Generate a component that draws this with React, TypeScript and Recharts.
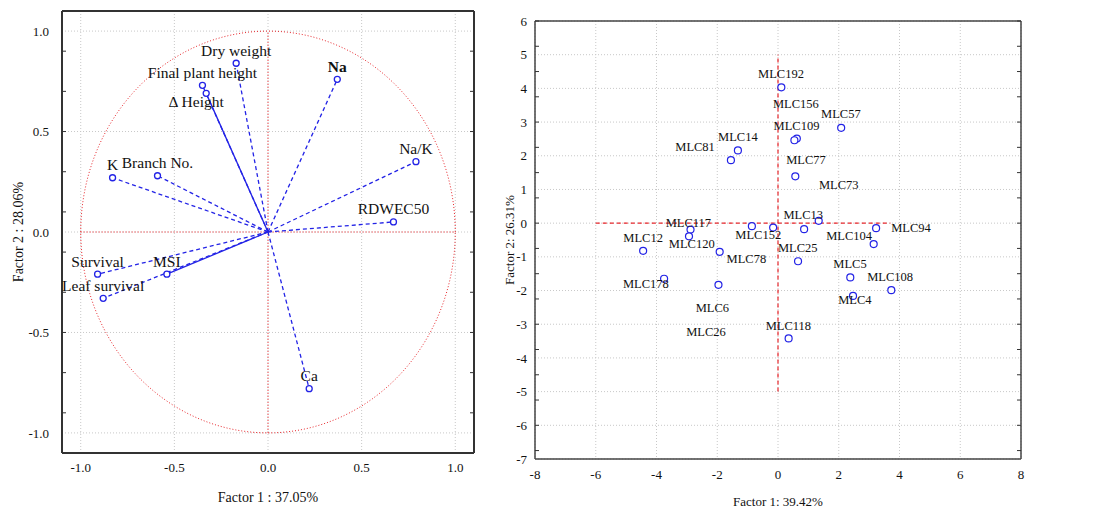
import React from "react";
import {
  ScatterChart,
  Scatter,
  XAxis,
  YAxis,
  CartesianGrid,
  ReferenceLine,
} from "recharts";

// ---- loading plot (left) ----
const loadingNames = [
  "Dry weight", "Final plant height", "Δ Height", "Na", "Na/K", "K",
  "Branch No.", "RDWEC50", "Survival", "MSI", "Leaf survival", "Ca",
];
const loadingF1 = [-0.17, -0.35, -0.33, 0.37, 0.79, -0.83, -0.59, 0.67, -0.91, -0.54, -0.88, 0.22];
const loadingF2 = [0.84, 0.73, 0.69, 0.76, 0.35, 0.27, 0.28, 0.05, -0.21, -0.21, -0.33, -0.78];
const loadingTicks = [-1, -0.5, 0, 0.5, 1];

// ---- score plot (right) ----
const scoreNames = [
  "MLC192", "MLC156", "MLC109", "MLC57", "MLC14", "MLC81", "MLC77", "MLC73",
  "MLC13", "MLC117", "MLC94", "MLC12", "MLC152", "MLC104", "MLC120", "MLC25",
  "MLC78", "MLC5", "MLC108", "MLC178", "MLC4", "MLC6", "MLC118", "MLC26",
];
const scoreF1 = [0.11, 0.62, 0.54, 2.08, -1.32, -1.55, 0.57, 0.86, 1.34, -2.88, 3.23, -4.44, -0.86, 3.15, -2.93, 0.66, -1.92, 2.38, 3.73, -3.75, 2.47, -1.96, 0.35, -0.16];
const scoreF2 = [4.03, 2.51, 2.46, 2.83, 2.16, 1.87, 1.39, -0.18, 0.07, -0.19, -0.15, -0.82, -0.09, -0.62, -0.39, -1.13, -0.85, -1.61, -1.99, -1.65, -2.16, -1.83, -3.42, -0.13];
// where each name is written (in factor units)
const scoreLabelF1 = [0.1, 0.59, 0.61, 2.07, -1.32, -2.73, 0.92, 2.0, 0.83, -2.95, 4.38, -4.44, -0.65, 2.34, -2.84, 0.65, -1.04, 2.37, 3.69, -4.35, 2.53, -2.16, 0.34, -2.37];
const scoreLabelF2 = [4.42, 3.53, 2.88, 3.23, 2.55, 2.25, 1.87, 1.13, 0.24, 0.01, -0.14, -0.43, -0.36, -0.39, -0.63, -0.73, -1.05, -1.22, -1.59, -1.8, -2.28, -2.53, -3.04, -3.24];
const scoreXTicks = [-8, -6, -4, -2, 0, 2, 4, 6, 8];
const scoreYTicks = [-7, -6, -5, -4, -3, -2, -1, 0, 1, 2, 3, 4, 5, 6];

const FONT = "'Liberation Serif', 'Times New Roman', serif";
const BLUE = "#2323e6";
const RED = "#e8262b";
const solidVectors = ["Δ Height", "MSI"];

const loadings = loadingNames.map((name, i) => ({ name, f1: loadingF1[i], f2: loadingF2[i] }));
const scores = scoreNames.map((name, i) => ({ name, f1: scoreF1[i], f2: scoreF2[i] }));
const scoreLabels = scoreNames.map((name, i) => ({ name, f1: scoreLabelF1[i], f2: scoreLabelF2[i] }));

// unit circle of correlations
const unitCircle = Array.from({ length: 181 }, (_, i) => {
  const a = (i / 180) * 2 * Math.PI;
  return { f1: Math.cos(a), f2: Math.sin(a) };
});

const steps = (from: number, to: number, step: number) => {
  const out: number[] = [];
  for (let v = from; v <= to + 1e-9; v += step) out.push(Math.round(v * 100) / 100);
  return out;
};

const noLabel = () => <g />;

const xTitle = (text: string, size: number, dy: number) => (props: any) => {
  const { x, y, width, height } = props.viewBox;
  return (
    <text x={x + width / 2} y={y + height - dy} textAnchor="middle" fontFamily={FONT} fontSize={size} fill="#111">
      {text}
    </text>
  );
};

const yTitle = (text: string, size: number, dx: number) => (props: any) => {
  const { x, y, height } = props.viewBox;
  const cx = x + dx;
  const cy = y + height / 2;
  return (
    <text x={cx} y={cy} transform={`rotate(-90 ${cx} ${cy})`} textAnchor="middle" dominantBaseline="central" fontFamily={FONT} fontSize={size} fill="#111">
      {text}
    </text>
  );
};

const LoadingMark = (props: any) => {
  const { cx, cy, payload } = props;
  const below = payload.name === "Δ Height";
  return (
    <g>
      <circle cx={cx} cy={cy} r={3} fill="#fff" stroke={BLUE} strokeWidth={1.3} />
      <text
        x={below ? cx - 10 : cx}
        y={below ? cy + 8 : cy - 13}
        textAnchor="middle"
        dominantBaseline="central"
        fontFamily={FONT}
        fontSize={15.5}
        fontWeight={payload.name === "Na" ? "bold" : "normal"}
        fill="#111"
      >
        {payload.name}
      </text>
    </g>
  );
};

const ScoreMark = (props: any) => (
  <circle cx={props.cx} cy={props.cy} r={3.5} fill="#fff" stroke={BLUE} strokeWidth={1.2} />
);

const ScoreName = (props: any) => (
  <text x={props.cx} y={props.cy} textAnchor="middle" dominantBaseline="central" fontFamily={FONT} fontSize={12.5} fill="#111">
    {props.payload.name}
  </text>
);

const tickStyle = { fontFamily: FONT, fontSize: 13, fill: "#111" };
const minorLine = { stroke: "#333", strokeWidth: 1 };

const LoadingPlot = () => {
  const minor = steps(-1.1, 1.1, 0.1);
  const frame = { stroke: "#333", strokeWidth: 2 };
  const dom: [number, number] = [-1.1, 1.1];
  return (
    <ScatterChart width={480} height={508} margin={{ top: 11, right: 6, bottom: 0, left: 0 }}>
      <CartesianGrid stroke="#c8c8c8" strokeDasharray="1 2" />
      <XAxis
        type="number" dataKey="f1" domain={dom} ticks={loadingTicks} allowDataOverflow
        tickFormatter={(v: number) => v.toFixed(1)} tick={tickStyle}
        tickLine={false} tickSize={0} tickMargin={10} height={55} axisLine={frame}
        label={{ content: xTitle("Factor 1 : 37.05%", 14, 6) }}
      />
      <YAxis
        type="number" dataKey="f2" domain={dom} ticks={loadingTicks} allowDataOverflow
        tickFormatter={(v: number) => v.toFixed(1)} tick={tickStyle}
        tickLine={false} tickSize={0} tickMargin={13} width={62} axisLine={frame}
        label={{ content: yTitle("Factor 2 : 28.06%", 14, 18) }}
      />
      <XAxis xAxisId="bm" type="number" domain={dom} ticks={minor} allowDataOverflow mirror tick={noLabel} tickSize={4} tickLine={minorLine} axisLine={false} />
      <XAxis xAxisId="top" orientation="top" type="number" domain={dom} ticks={minor} allowDataOverflow mirror tick={noLabel} tickSize={4} tickLine={minorLine} axisLine={frame} />
      <YAxis yAxisId="lm" type="number" domain={dom} ticks={minor} allowDataOverflow mirror tick={noLabel} tickSize={4} tickLine={minorLine} axisLine={false} />
      <YAxis yAxisId="right" orientation="right" type="number" domain={dom} ticks={minor} allowDataOverflow mirror tick={noLabel} tickSize={4} tickLine={minorLine} axisLine={frame} />
      <Scatter
        data={unitCircle} line={{ stroke: RED, strokeWidth: 1, strokeDasharray: "1 2" }}
        lineType="joint" shape={() => <g />} isAnimationActive={false}
      />
      <ReferenceLine segment={[{ x: -1, y: 0 }, { x: 1, y: 0 }]} stroke={RED} strokeDasharray="1 2" />
      <ReferenceLine segment={[{ x: 0, y: -1 }, { x: 0, y: 1 }]} stroke={RED} strokeDasharray="1 2" />
      {loadings.map((d) => (
        <ReferenceLine
          key={d.name}
          segment={[{ x: 0, y: 0 }, { x: d.f1, y: d.f2 }]}
          stroke={BLUE}
          strokeWidth={1.3}
          strokeDasharray={solidVectors.includes(d.name) ? undefined : "4 3"}
        />
      ))}
      <Scatter data={loadings} shape={LoadingMark} isAnimationActive={false} />
    </ScatterChart>
  );
};

const ScorePlot = () => {
  const xMinor = steps(-8, 8, 1);
  const yMinor = steps(-7, 6, 0.25);
  const frame = { stroke: "#444", strokeWidth: 1.5 };
  const xDom: [number, number] = [-8, 8];
  const yDom: [number, number] = [-7, 6];
  return (
    <ScatterChart width={540} height={508} margin={{ top: 21, right: 9, bottom: 0, left: 0 }}>
      <CartesianGrid stroke="#c8c8c8" strokeDasharray="1 2" />
      <XAxis
        type="number" dataKey="f1" domain={xDom} ticks={scoreXTicks} allowDataOverflow tick={tickStyle}
        tickLine={false} tickSize={0} tickMargin={11} height={49} axisLine={frame}
        label={{ content: xTitle("Factor 1: 39.42%", 13, 2) }}
      />
      <YAxis
        type="number" dataKey="f2" domain={yDom} ticks={scoreYTicks} allowDataOverflow tick={tickStyle}
        tickLine={false} tickSize={0} tickMargin={8} width={45} axisLine={frame}
        label={{ content: yTitle("Factor 2: 26.31%", 13, 19) }}
      />
      <XAxis xAxisId="bm" type="number" domain={xDom} ticks={xMinor} allowDataOverflow mirror tick={noLabel} tickSize={4} tickLine={minorLine} axisLine={false} />
      <XAxis xAxisId="top" orientation="top" type="number" domain={xDom} ticks={xMinor} allowDataOverflow mirror tick={noLabel} tickSize={4} tickLine={minorLine} axisLine={frame} />
      <YAxis yAxisId="lm" type="number" domain={yDom} ticks={yMinor} allowDataOverflow mirror tick={noLabel} tickSize={4} tickLine={minorLine} axisLine={false} />
      <YAxis yAxisId="right" orientation="right" type="number" domain={yDom} ticks={yMinor} allowDataOverflow mirror tick={noLabel} tickSize={4} tickLine={minorLine} axisLine={frame} />
      <ReferenceLine segment={[{ x: -6, y: 0 }, { x: 3.7, y: 0 }]} stroke={RED} strokeWidth={1.2} strokeDasharray="4 3" />
      <ReferenceLine segment={[{ x: 0, y: -5 }, { x: 0, y: 5 }]} stroke={RED} strokeWidth={1.2} strokeDasharray="4 3" />
      <Scatter data={scores} shape={ScoreMark} isAnimationActive={false} />
      <Scatter data={scoreLabels} shape={ScoreName} isAnimationActive={false} />
    </ScatterChart>
  );
};

export default function App() {
  return (
    <div style={{ position: "relative", width: 1110, height: 508, margin: "-8px 0 0 -8px", background: "#fff" }}>
      <div style={{ position: "absolute", left: 0, top: 0 }}>
        <LoadingPlot />
      </div>
      <div style={{ position: "absolute", left: 490, top: 0 }}>
        <ScorePlot />
      </div>
    </div>
  );
}
